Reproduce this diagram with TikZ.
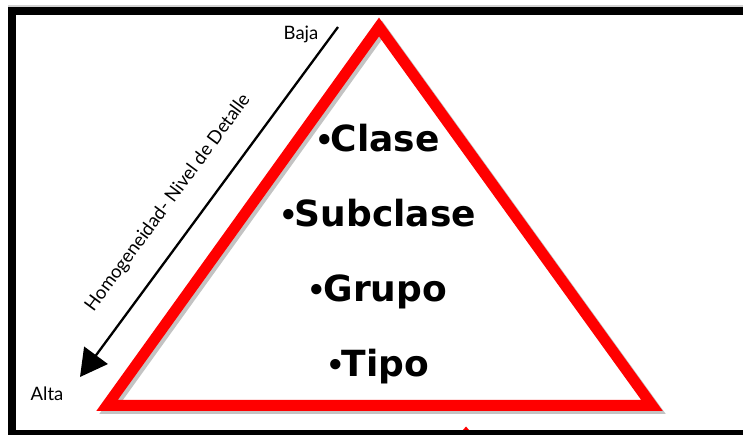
\documentclass[tikz,border=0pt]{standalone}
\usepackage{fontspec}
\setmainfont{Lato}
\newfontfamily\boldfont{DejaVu Sans}
\newfontfamily\bulletfont{Liberation Sans}
\usetikzlibrary{arrows.meta}
\definecolor{trired}{RGB}{255,0,0}
\definecolor{shadowgray}{RGB}{195,195,195}
\tikzset{
  item/.style={anchor=base, inner sep=0pt, font=\boldfont\bfseries\fontsize{36}{36}\selectfont},
  side/.style={inner sep=0pt, font=\fontsize{18.5}{18.5}\selectfont},
  triline/.style={draw=trired, line width=11pt, line join=miter, miter limit=10},
  triShadow/.style={draw=shadowgray, line width=11pt, line join=miter, miter limit=10},
  framebar/.style={fill=black},
  axisarrow/.style={draw=black, line width=2.3pt, -{Triangle[length=27pt,width=29pt]}},
}
\begin{document}
\begin{tikzpicture}[x=1pt,y=1pt]
\useasboundingbox (0,0) rectangle (743,435);
\fill[white] (0,0) rectangle (743,435);
% frame
\fill[gray!35] (8,428) rectangle (743,429.5);
\fill[framebar] (8,420) rectangle (743,428);
\fill[framebar] (8,0) rectangle (16,428);
\fill[framebar] (8,0) rectangle (743,5);
% small red mark at the bottom
\fill[trired] (463,5) -- (466,8.5) -- (469,5) -- cycle;
% triangle
\coordinate (L) at (107,29.5);
\coordinate (R) at (652,29.5);
\coordinate (A) at (379,408);
\draw[triShadow] ([shift={(3,-3)}]L) -- ([shift={(3,-3)}]R) -- ([shift={(3,-3)}]A) -- cycle;
\draw[triline] (L) -- (R) -- (A) -- cycle;
% items
\node[item] (clase) at (379,283) {{\bulletfont •}Clase};
\node[item] (subclase) at (379,208) {{\bulletfont •}Subclase};
\node[item] (grupo) at (379,133) {{\bulletfont •}Grupo};
\node[item] (tipo) at (379,58) {{\bulletfont •}Tipo};
% arrow
\coordinate (atop) at (338,408);
\coordinate (atip) at (80,58);
\draw[axisarrow] (atop) -- (atip);
\node[side, rotate=53.6] (hom) at (168,232) {Homogeneidad- Nivel de Detalle};
\node[side, anchor=base] (baja) at (301,395) {Baja};
\node[side, anchor=base] (alta) at (47,34) {Alta};
\end{tikzpicture}
\end{document}
